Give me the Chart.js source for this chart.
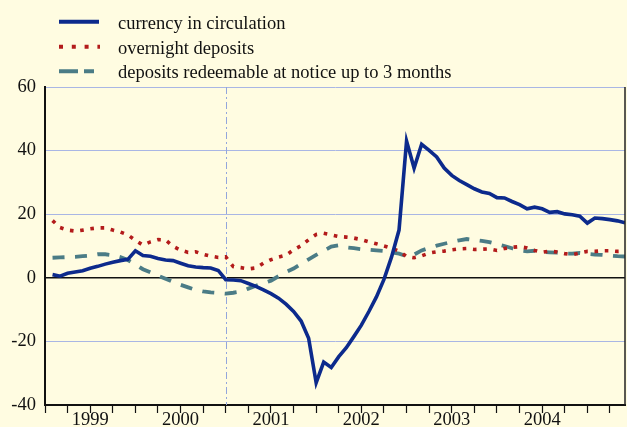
<!DOCTYPE html>
<html>
<head>
<meta charset="utf-8">
<script src="https://cdn.jsdelivr.net/npm/chart.js@4.4.1/dist/chart.umd.min.js"></script>
<style>
  html, body { margin: 0; padding: 0; background: #fffce1; }
  #wrap { position: relative; width: 627px; height: 427px; background: #fffce1; }
  #c { position: absolute; left: 0; top: 0; }
  #legend { position: absolute; left: 0; top: 0; }
  #legend text { font-family: "Liberation Serif", "Times New Roman", serif; font-size: 18.5px; fill: #111; }
</style>
</head>
<body>
<div id="wrap">
  <canvas id="c" width="627" height="427"></canvas>
  <svg id="legend" width="627" height="86" xmlns="http://www.w3.org/2000/svg">
    <line x1="59" y1="21.7" x2="99" y2="21.7" stroke="#0c2a8c" stroke-width="4"/>
    <text x="118" y="29.3">currency in circulation</text>
    <line x1="59" y1="46.7" x2="100" y2="46.7" stroke="#b31b1b" stroke-width="4" stroke-dasharray="4 8.8"/>
    <text x="118" y="53.6">overnight deposits</text>
    <line x1="59" y1="71.2" x2="94" y2="71.2" stroke="#4b7c86" stroke-width="4" stroke-dasharray="19 6"/>
    <text x="118" y="78.2">deposits redeemable at notice up to 3 months</text>
  </svg>
</div>
<script>
// Annual growth rates (%), monthly, January 1999 to May 2005.
const currencyInCirculation = [
  1.0, 0.5, 1.4, 1.8, 2.2, 3.0, 3.6, 4.3, 4.9, 5.4,
  5.8, 8.5, 7.0, 6.8, 6.1, 5.6, 5.4, 4.6, 3.8, 3.4,
  3.2, 3.1, 2.3, -0.6, -0.7, -0.9, -1.8, -2.7, -3.8, -5.0,
  -6.4, -8.3, -10.6, -13.6, -19.0, -33.0, -26.5, -28.2, -24.8, -22.0,
  -18.5, -14.9, -10.6, -6.0, -0.5, 6.5, 15.0, 43.0, 34.5, 42.0,
  40.1, 38.0, 34.5, 32.2, 30.6, 29.3, 28.0, 27.0, 26.5, 25.2,
  25.1, 24.0, 23.0, 21.7, 22.2, 21.7, 20.6, 20.8, 20.1, 19.8,
  19.4, 17.2, 18.8, 18.6, 18.3, 17.9, 17.3
];
const overnightDeposits = [
  18.0, 15.8, 15.0, 14.7, 15.0, 15.4, 15.7, 15.7, 15.0, 14.4,
  13.5, 11.8, 10.3, 11.3, 12.0, 11.9, 9.9, 8.7, 8.0, 8.2,
  7.4, 6.8, 6.4, 6.6, 3.5, 3.2, 2.8, 3.1, 4.6, 5.7,
  6.5, 7.1, 8.8, 10.1, 12.0, 13.6, 14.0, 13.5, 13.0, 12.8,
  12.5, 12.0, 11.3, 10.7, 10.0, 9.3, 8.4, 6.7, 6.3, 6.9,
  7.8, 8.2, 8.4, 8.8, 9.1, 9.2, 8.9, 9.0, 9.1, 8.6,
  9.2, 9.6, 9.8, 9.4, 8.6, 8.0, 8.4, 8.1, 7.6, 7.3,
  7.8, 8.3, 8.3, 8.5, 8.5, 8.3, 8.4
];
const depositsAtNotice = [
  6.3, 6.4, 6.5, 6.6, 6.8, 7.0, 7.4, 7.4, 7.1, 6.5,
  5.6, 4.2, 2.7, 1.7, 0.7, -0.3, -1.3, -2.2, -3.0, -3.8,
  -4.3, -4.6, -4.8, -5.0, -4.7, -4.3, -3.4, -2.5, -1.7, -0.9,
  0.5, 1.8, 2.9, 4.4, 5.8, 7.2, 8.5, 9.8, 10.2, 9.6,
  9.3, 9.0, 8.8, 8.6, 8.4, 8.0, 7.6, 6.8, 7.3, 8.6,
  9.4, 10.1, 10.7, 11.3, 11.8, 12.2, 11.9, 11.6, 11.2, 10.6,
  10.0, 9.3, 8.6, 8.3, 8.5, 8.1, 8.0, 7.9, 7.6, 7.6,
  7.8, 7.5, 7.3, 7.2, 7.0, 6.8, 6.7
];
const yearLabels = ['1999', '2000', '2001', '2002', '2003', '2004'];
const yTicks = [-40, -20, 0, 20, 40, 60];
const axisEndMonth = 77;        // end of May 2005, in months from 1 Jan 1999
const breakMonth = 24;          // January 2001

// x position of each observation: end of month, counted in months from 1 Jan 1999
const toPoints = (arr) => arr.map((v, i) => ({ x: i + 1, y: v }));

const FONT = { family: '"Liberation Serif", "Times New Roman", serif', size: 18.5 };

const frame = {
  id: 'frame',
  beforeDatasetsDraw(chart) {
    const { ctx, chartArea, scales } = chart;
    const x = Math.round(scales.x.getPixelForValue(breakMonth)) + 0.5;
    ctx.save();
    ctx.strokeStyle = '#93a6dc';
    ctx.lineWidth = 1;
    ctx.setLineDash([7, 3, 2, 3]);
    ctx.beginPath();
    ctx.moveTo(x, chartArea.top);
    ctx.lineTo(x, chartArea.bottom);
    ctx.stroke();
    ctx.restore();
  },
  afterDraw(chart) {
    const { ctx, chartArea } = chart;
    ctx.save();
    ctx.strokeStyle = '#222';
    ctx.lineWidth = 1.5;
    ctx.beginPath();
    ctx.moveTo(chartArea.right, chartArea.top);
    ctx.lineTo(chartArea.right, chartArea.bottom);
    ctx.stroke();
    ctx.restore();
  }
};

new Chart(document.getElementById('c'), {
  type: 'line',
  data: {
    datasets: [
      {
        label: 'currency in circulation',
        data: toPoints(currencyInCirculation),
        borderColor: '#0c2a8c',
        borderWidth: 3.6,
        pointRadius: 0,
        tension: 0,
        order: 1
      },
      {
        label: 'overnight deposits',
        data: toPoints(overnightDeposits),
        borderColor: '#b31b1b',
        borderWidth: 3.6,
        borderDash: [3.6, 6.7],
        borderCapStyle: 'butt',
        pointRadius: 0,
        tension: 0,
        order: 2
      },
      {
        label: 'deposits redeemable at notice up to 3 months',
        data: toPoints(depositsAtNotice),
        borderColor: '#4b7c86',
        borderWidth: 3.8,
        borderDash: [12, 10.5],
        borderCapStyle: 'butt',
        pointRadius: 0,
        tension: 0,
        order: 3
      }
    ]
  },
  options: {
    responsive: false,
    devicePixelRatio: 1,
    animation: false,
    layout: { padding: { top: 87, left: 0, right: 2, bottom: 0 } },
    plugins: { legend: { display: false }, tooltip: { enabled: false } },
    scales: {
      x: {
        type: 'linear',
        min: 0,
        max: axisEndMonth,
        afterFit(scale) { scale.height = 22; },
        ticks: {
          stepSize: 3,
          includeBounds: false,
          autoSkip: false,
          maxRotation: 0,
          padding: -4,
          color: '#111',
          font: FONT,
          callback(v) {
            const k = (v - 6) / 12;
            return Number.isInteger(k) && yearLabels[k] ? yearLabels[k] : '';
          }
        },
        grid: { drawOnChartArea: false, drawTicks: true, tickLength: 8, tickColor: '#111', tickWidth: 1.2 },
        border: { display: true, color: '#111', width: 2 }
      },
      y: {
        min: yTicks[0],
        max: yTicks[yTicks.length - 1],
        afterFit(scale) { scale.width = 45; },
        afterBuildTicks(scale) { scale.ticks = yTicks.map(v => ({ value: v })); },
        ticks: {
          padding: 9,
          color: '#111',
          font: FONT,
          callback(v) { return String(v); }
        },
        grid: {
          drawTicks: false,
          color: (c) => c.tick && c.tick.value === 0 ? '#111' : '#a9b6e4',
          lineWidth: (c) => c.tick && c.tick.value === 0 ? 1.6 : 1
        },
        border: { display: true, color: '#111', width: 2 }
      }
    }
  },
  plugins: [frame]
});
</script>
</body>
</html>
